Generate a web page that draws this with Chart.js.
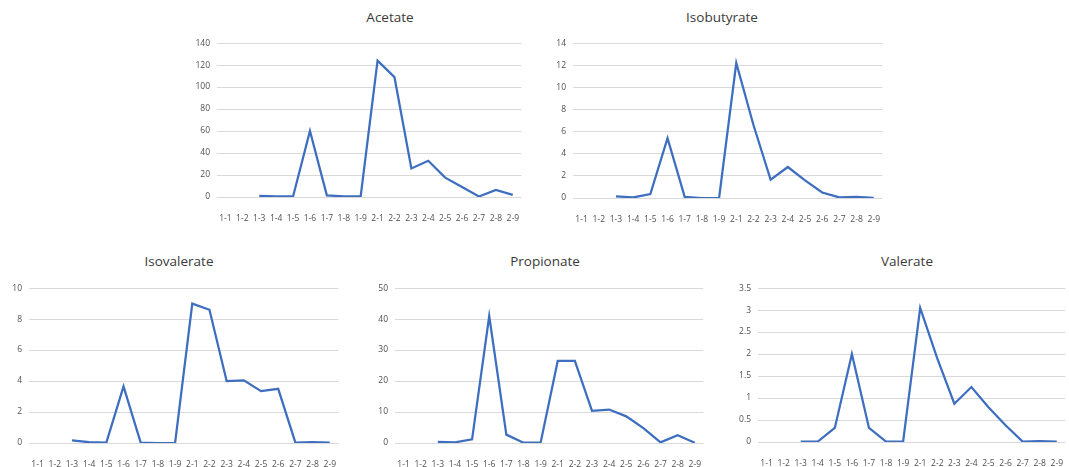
<!DOCTYPE html>
<html>
<head>
<meta charset="utf-8">
<script src="https://cdn.jsdelivr.net/npm/chart.js@4/dist/chart.umd.min.js"></script>
<style>
  html, body { margin: 0; padding: 0; background: #fff; overflow: hidden; }
  body { width: 1069px; height: 467px; position: relative; font-family: "Open Sans", "Noto Sans", sans-serif; }
  .box { position: absolute; }
  .title { position: absolute; width: 200px; text-align: center; font-size: 13.5px; color: #3a3a3a; line-height: 16px; }
</style>
</head>
<body>
<script>
// sample labels shared by all five panels
const samples = ['1-1','1-2','1-3','1-4','1-5','1-6','1-7','1-8','1-9',
                 '2-1','2-2','2-3','2-4','2-5','2-6','2-7','2-8','2-9'];

const acetate     = [null, null, 1, 0.5, 0.5, 60, 1.5, 0.5, 0.5, 124, 109, 26, 33, 17.6, 9, 0.5, 6.5, 2];
const isobutyrate = [null, null, 0.15, 0.05, 0.35, 5.4, 0.1, 0, 0, 12.2, 6.6, 1.65, 2.8, 1.6, 0.5, 0.05, 0.1, 0.02];
const isovalerate = [null, null, 0.17, 0.05, 0.02, 3.65, 0.02, 0, 0, 9.0, 8.6, 4.0, 4.05, 3.35, 3.5, 0.02, 0.05, 0.02];
const propionate  = [null, null, 0.4, 0.2, 1.2, 41, 2.7, 0.1, 0.1, 26.5, 26.5, 10.4, 10.8, 8.6, 4.8, 0.2, 2.5, 0.1];
const valerate    = [null, null, 0.01, 0.01, 0.32, 2.0, 0.32, 0.01, 0.01, 3.05, 1.9, 0.87, 1.25, 0.79, 0.38, 0.01, 0.02, 0.01];

// y axis limits per panel
const yMax  = { Acetate: 140, Isobutyrate: 14, Isovalerate: 10, Propionate: 50, Valerate: 3.5 };
const yStep = { Acetate: 20,  Isobutyrate: 2,  Isovalerate: 2,  Propionate: 10, Valerate: 0.5 };

const panels = [
  { name: 'Acetate',     data: acetate,     left: 187, top: 31,  width: 340, yw: 30, gh: 156, tx: 390, ty: 9 },
  { name: 'Isobutyrate', data: isobutyrate, left: 543, top: 31,  width: 345, yw: 30, gh: 157, tx: 722, ty: 9 },
  { name: 'Isovalerate', data: isovalerate, left: 0,   top: 276, width: 344, yw: 29, gh: 157, tx: 179, ty: 253 },
  { name: 'Propionate',  data: propionate,  left: 365, top: 276, width: 344, yw: 30, gh: 157, tx: 545, ty: 253 },
  { name: 'Valerate',    data: valerate,    left: 728, top: 276, width: 343, yw: 30, gh: 156, tx: 907, ty: 253 }
];

panels.forEach(p => {
  const t = document.createElement('div');
  t.className = 'title';
  t.textContent = p.name;
  t.style.left = (p.tx - 100) + 'px';
  t.style.top = p.ty + 'px';
  document.body.appendChild(t);

  const box = document.createElement('div');
  box.className = 'box';
  const h = 10 + p.gh + 25;
  box.style.left = p.left + 'px';
  box.style.top = p.top + 'px';
  box.style.width = p.width + 'px';
  box.style.height = h + 'px';
  const cv = document.createElement('canvas');
  box.appendChild(cv);
  document.body.appendChild(box);

  new Chart(cv.getContext('2d'), {
    type: 'line',
    data: {
      labels: samples,
      datasets: [{
        data: p.data,
        borderColor: '#3d6ec0',
        borderWidth: 2.25,
        pointRadius: 0,
        tension: 0,
        spanGaps: false
      }]
    },
    options: {
      responsive: true,
      maintainAspectRatio: false,
      animation: false,
      layout: { padding: { top: 10, right: 0, left: 0, bottom: 0 } },
      plugins: { legend: { display: false }, tooltip: { enabled: false } },
      scales: {
        x: {
          offset: true,
          grid: { display: false },
          border: { display: false },
          ticks: {
            autoSkip: false, maxRotation: 0, padding: 8,
            color: '#505050', font: { family: 'Open Sans', size: 8.5 }
          },
          afterFit: s => { s.height = 25; }
        },
        y: {
          min: 0, max: yMax[p.name],
          grid: { color: '#d9d9d9', lineWidth: 1, drawTicks: false },
          border: { display: false },
          ticks: {
            stepSize: yStep[p.name], padding: 7,
            color: '#505050', font: { family: 'Open Sans', size: 8.5 },
            callback: v => String(Math.round(v * 10) / 10)
          },
          afterFit: s => { s.width = p.yw; }
        }
      }
    }
  });
});
</script>
</body>
</html>
